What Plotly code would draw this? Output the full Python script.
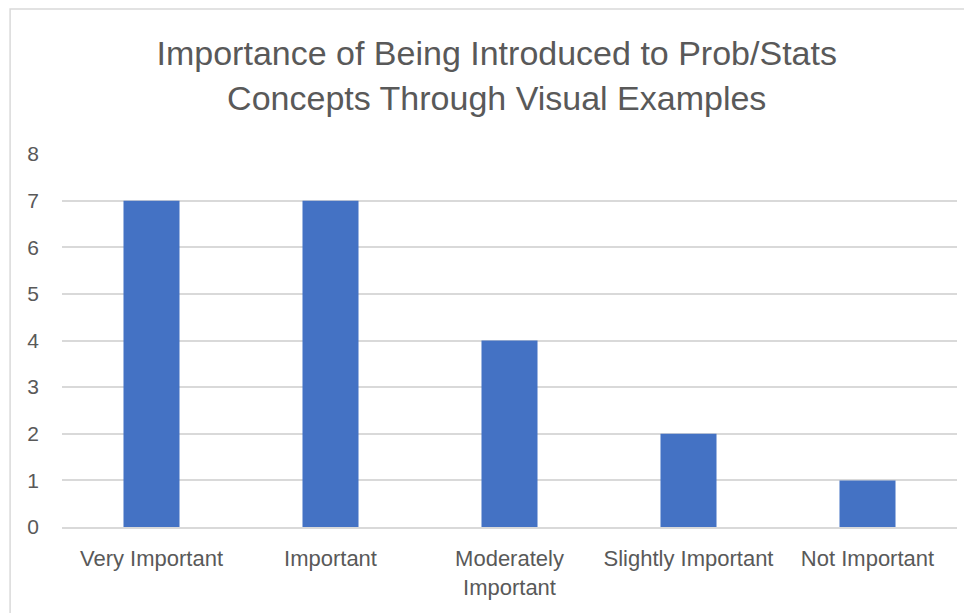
import plotly.graph_objects as go

# survey answers
categories = ["Very Important", "Important", "Moderately<br>Important",
              "Slightly Important", "Not Important"]
counts = [7, 7, 4, 2, 1]
y_ticks = [0, 1, 2, 3, 4, 5, 6, 7, 8]

fig = go.Figure()
fig.add_trace(go.Bar(x=categories, y=counts, marker=dict(color="#4472C4", line=dict(width=0)),
                     showlegend=False))

# light gray chart border, like the Excel chart area
fig.add_shape(type="rect", xref="paper", yref="paper",
              x0=-0.058, x1=1.03, y0=-0.4, y1=1.389,
              line=dict(color="#D9D9D9", width=1.5), fillcolor="rgba(0,0,0,0)", layer="below")

# page body has an 8px margin, so the figure is a bit smaller than the window
fig.update_layout(
    width=964, height=605,
    margin=dict(l=54, r=15, t=146, b=86),
    paper_bgcolor="white", plot_bgcolor="white",
    font=dict(family="Liberation Sans", color="#595959", size=21),
    title=dict(text="Importance of Being Introduced to Prob/Stats<br>Concepts Through Visual Examples",
               x=0.507, xref="container", xanchor="center", y=0.905, yanchor="middle",
               font=dict(size=34, color="#595959")),
    bargap=0.687,
)
fig.update_yaxes(range=[0, 8], tickvals=y_ticks, showgrid=True, gridcolor="#D9D9D9", gridwidth=1.5,
                 zeroline=False, showline=False, ticks="", ticklabelstandoff=22)
fig.update_xaxes(showline=True, linecolor="#D9D9D9", linewidth=1.5, ticks="", ticklabelstandoff=11,
                 tickfont=dict(size=22))

fig.write_html("out.html")
